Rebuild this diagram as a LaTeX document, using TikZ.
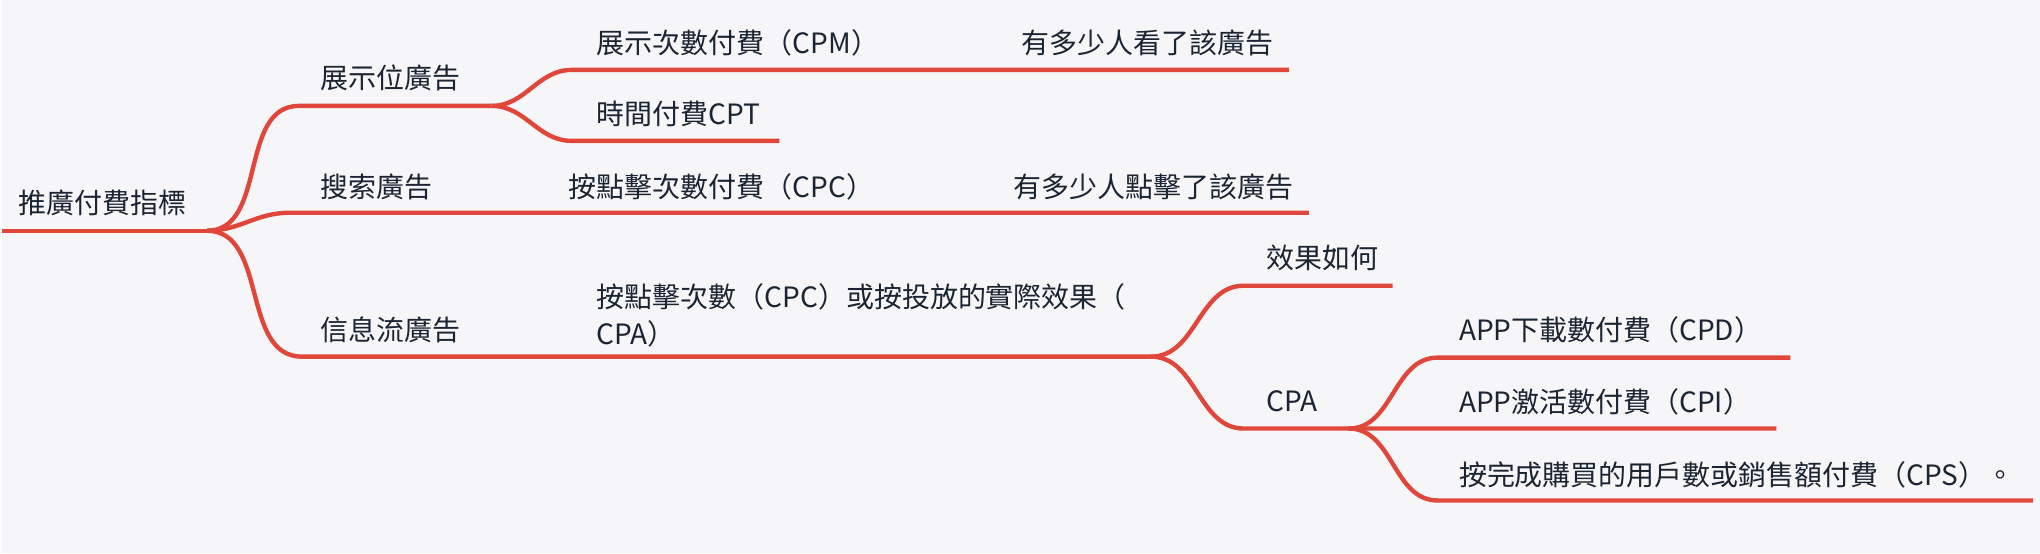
\documentclass[tikz,border=0pt]{standalone}
\usepackage{fontspec}
\setmainfont{Noto Sans CJK TC}
\usetikzlibrary{positioning}
\definecolor{Ink}{HTML}{1B2433}
\definecolor{Paper}{HTML}{F6F6F8}
\definecolor{Brick}{HTML}{E0473A}
\tikzset{
  topic/.style={
    anchor=base west, inner sep=0pt, text=Ink,
    font=\fontsize{14}{18.5}\selectfont, align=left
  },
  branch/.style={draw=Brick, line width=2.2pt},
  swoop/.style={out=0, in=180}
}

\begin{document}
\begin{tikzpicture}[x=0.5pt,y=-0.5pt]
  \fill[Paper] (0,0) rectangle (2040,554);

  % underline ends
  \coordinate (root-s) at (0,231);     \coordinate (root-e) at (205,231);
  \coordinate (show-s) at (297,106);   \coordinate (show-e) at (490,106);
  \coordinate (search-s) at (287,213); \coordinate (search-e) at (546,213);
  \coordinate (feed-s) at (300,357);   \coordinate (feed-e) at (574,357);
  \coordinate (cpm-s) at (570,70);     \coordinate (cpm-e) at (998,70);
  \coordinate (cpmv-e) at (1288,70);
  \coordinate (cpt-s) at (570,141);    \coordinate (cpt-e) at (778,141);
  \coordinate (cpc-e) at (990,213);    \coordinate (cpcv-e) at (1308,213);
  \coordinate (pay-e) at (1150,357);
  \coordinate (effect-s) at (1243,286); \coordinate (effect-e) at (1392,286);
  \coordinate (cpa-s) at (1243,429);   \coordinate (cpa-e) at (1348,429);
  \coordinate (cpd-s) at (1437,358);   \coordinate (cpd-e) at (1790,358);
  \coordinate (cpi-e) at (1776,429);
  \coordinate (cps-s) at (1437,501);   \coordinate (cps-e) at (2033,501);

  % topics
  \node[topic] (root) at (16,214) {推廣付費指標};
  \node[topic] (show) at (318,89) {展示位廣告};
  \node[topic] (search) at (318,198) {搜索廣告};
  \node[topic] (feed) at (318,341) {信息流廣告};
  \node[topic] (cpm) at (595,54) {展示次數付費（CPM）};
  \node[topic] (cpmv) at (1020,54) {有多少人看了該廣告};
  \node[topic] (cpt) at (595,125) {時間付費CPT};
  \node[topic] (cpc) at (567,198) {按點擊次數付費（CPC）};
  \node[topic] (cpcv) at (1012,198) {有多少人點擊了該廣告};
  \node[topic, anchor=north west] (pay) at (595,283)
    {按點擊次數（CPC）或按投放的實際效果（\\CPA）};
  \node[topic] (effect) at (1265,269) {效果如何};
  \node[topic] (cpa) at (1265,412) {CPA};
  \node[topic] (cpd) at (1458,341) {APP下載數付費（CPD）};
  \node[topic] (cpi) at (1458,413) {APP激活數付費（CPI）};
  \node[topic] (cps) at (1458,486) {按完成購買的用戶數或銷售額付費（CPS）。};

  % branches
  \draw[branch] (root-s) -- (root-e);
  \draw[branch] (root-e) to[swoop] (show-s) -- (show-e);
  \draw[branch] (root-e) to[swoop] (search-s) -- (search-e) -- (cpc-e) -- (cpcv-e);
  \draw[branch] (root-e) to[swoop] (feed-s) -- (feed-e) -- (pay-e);
  \draw[branch] (show-e) to[swoop] (cpm-s) -- (cpm-e) -- (cpmv-e);
  \draw[branch] (show-e) to[swoop] (cpt-s) -- (cpt-e);
  \draw[branch] (pay-e) to[swoop] (effect-s) -- (effect-e);
  \draw[branch] (pay-e) to[swoop] (cpa-s) -- (cpa-e) -- (cpi-e);
  \draw[branch] (cpa-e) to[swoop] (cpd-s) -- (cpd-e);
  \draw[branch] (cpa-e) to[swoop] (cps-s) -- (cps-e);
\end{tikzpicture}
\end{document}
